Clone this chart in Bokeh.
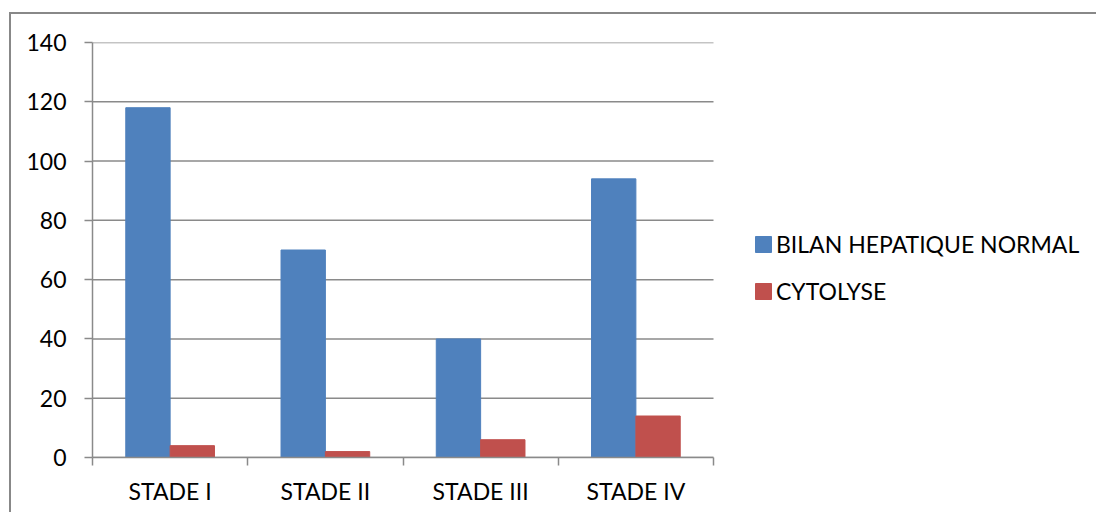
from bokeh.plotting import figure
from bokeh.layouts import column
from bokeh.models import (ColumnDataSource, FixedTicker, Legend, LegendItem,
                          Range1d)
from bokeh.embed import file_html
from bokeh.resources import INLINE

# Data
stages = ["STADE I", "STADE II", "STADE III", "STADE IV"]
bilan_normal = [118, 70, 40, 94]
cytolyse = [4, 2, 6, 14]
series_names = ["BILAN HEPATIQUE NORMAL", "CYTOLYSE"]
y_ticks = [0, 20, 40, 60, 80, 100, 120, 140]

BLUE = "#4F81BD"
RED = "#C0504D"
GRID = "#8A8A8A"
FONT = "Lato"
FS = "23px"

# page geometry: chart border at (9, 12), plotting area 621 px wide
OFF_X, OFF_Y = 11, 15
W, H = 1096 - OFF_X, 514 - OFF_Y - 1
LEFT, TOP, BOTTOM = 92 - OFF_X, 43 - OFF_Y, 514 - OFF_Y - 1 - (458 - OFF_Y)
BAR_AREA_W = 621
frame_w = W - LEFT
n = len(stages)
x_end = n * frame_w / BAR_AREA_W   # extra room on the right holds the legend

p = figure(width=W, height=H, output_backend="svg", toolbar_location=None,
           x_range=Range1d(0, x_end), y_range=Range1d(0, 140),
           min_border_left=LEFT, min_border_right=0,
           min_border_top=TOP, min_border_bottom=BOTTOM)
p.outline_line_color = None
p.background_fill_color = "white"
p.border_fill_color = "white"

# horizontal grid lines, limited to the bar area
p.segment(x0=[0] * len(y_ticks), x1=[n] * len(y_ticks), y0=y_ticks, y1=y_ticks,
          line_color=GRID, line_width=1.5)

bw = 1 / 3.5
idx = list(range(n))
src = ColumnDataSource(dict(
    xb=[i + 0.5 - bw / 2 for i in idx],
    xr=[i + 0.5 + bw / 2 for i in idx],
    blue=bilan_normal, red=cytolyse))

r_blue = p.vbar(x="xb", top="blue", width=bw, source=src,
                fill_color=BLUE, line_color=BLUE)
r_red = p.vbar(x="xr", top="red", width=bw, source=src,
               fill_color=RED, line_color=RED)

# x axis: labels at group centres, ticks on group boundaries
xa = p.xaxis[0]
xa.bounds = (0, n)
xa.ticker = FixedTicker(ticks=[i + 0.5 for i in idx],
                        minor_ticks=list(range(n + 1)))
xa.major_label_overrides = {i + 0.5: s for i, s in zip(idx, stages)}
xa.major_tick_line_color = None
xa.minor_tick_out = 8
xa.minor_tick_in = 0
xa.minor_tick_line_color = GRID
xa.minor_tick_line_width = 1.5
xa.axis_line_color = GRID
xa.axis_line_width = 1.5
xa.major_label_text_font = FONT
xa.major_label_text_font_size = FS
xa.major_label_text_color = "black"
xa.major_label_standoff = 11

ya = p.yaxis[0]
ya.ticker = FixedTicker(ticks=y_ticks)
ya.minor_tick_line_color = None
ya.major_tick_out = 8
ya.major_tick_in = 0
ya.major_tick_line_color = GRID
ya.major_tick_line_width = 1.5
ya.axis_line_color = GRID
ya.axis_line_width = 1.5
ya.major_label_text_font = FONT
ya.major_label_text_font_size = FS
ya.major_label_text_color = "black"
ya.major_label_standoff = 18

p.xgrid.grid_line_color = None
p.ygrid.grid_line_color = None

legend = Legend(items=[LegendItem(label=series_names[0], renderers=[r_blue]),
                       LegendItem(label=series_names[1], renderers=[r_red])],
                location=(661, 152), padding=0, margin=0, spacing=19,
                glyph_width=20, glyph_height=20, label_standoff=3,
                label_text_font=FONT, label_text_font_size=FS,
                label_text_color="black", border_line_color=None,
                background_fill_alpha=0)
p.add_layout(legend, "center")

layout = column(p, styles={"margin-left": "9px", "margin-top": "12px",
                           "border-left": "2px solid #888888",
                           "border-top": "2px solid #888888"})

with open("out.html", "w") as f:
    f.write(file_html(layout, INLINE))
